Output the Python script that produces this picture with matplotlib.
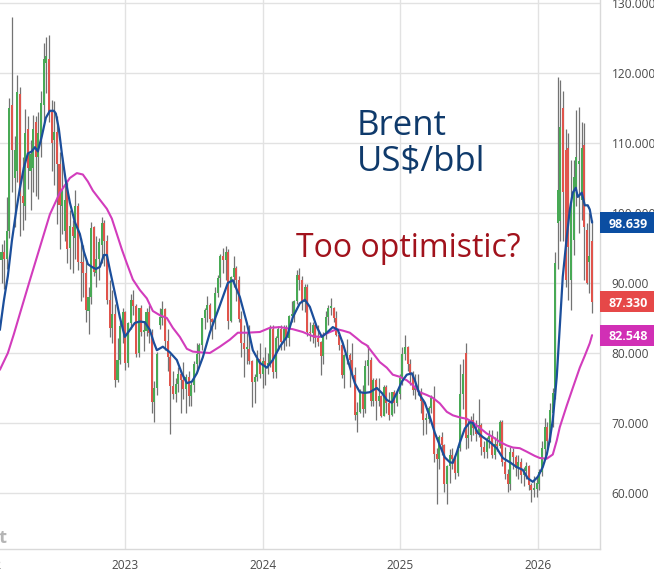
import numpy as np
import pandas as pd
import matplotlib
matplotlib.use('Agg')
import matplotlib.pyplot as plt
import matplotlib.dates as mdates
import matplotlib.transforms as mtransforms
from matplotlib.patches import Rectangle

plt.rcParams['font.family'] = ['Open Sans', 'DejaVu Sans']

# ---------------- data: weekly Brent candles (week starting Monday) ----------------
first_week = '2022-01-31'

open_2022 = [89.3, 93.3, 94.4, 93.5, 97.5, 115.5, 105.0, 106.0, 117.0, 102.5, 101.0, 112.0, 106.0, 106.5, 113.0, 108.0,
             110.5, 115.5, 121.5, 122.0, 114.4, 110.5, 111.6, 107.0, 101.0, 97.5, 103.7, 95.0, 98.0, 96.5, 101.0, 93.0,
             93.0, 91.4, 86.0, 88.0, 98.0, 91.5, 93.5, 95.5, 98.6, 96.0, 87.6, 83.6, 85.6, 76.1, 79.0, 84.0]
high_2022 = [94.0, 95.6, 96.2, 102.3, 116.5, 128.0, 111.0, 119.7, 118.0, 108.0, 114.9, 113.8, 110.5, 114.0, 113.8, 114.4,
             117.5, 124.3, 125.1, 125.4, 116.2, 116.0, 113.9, 108.7, 108.0, 104.0, 104.5, 100.5, 99.0, 103.3, 101.5, 96.5,
             95.5, 93.5, 89.5, 98.7, 98.1, 96.7, 96.5, 99.5, 99.0, 96.8, 90.5, 89.0, 87.0, 82.2, 84.5, 86.5]
low_2022 = [88.0, 90.0, 89.2, 92.0, 96.5, 103.0, 98.0, 104.5, 96.7, 97.6, 99.0, 103.5, 100.5, 103.0, 102.5, 102.0,
            108.0, 113.0, 117.1, 113.0, 106.0, 104.0, 98.5, 94.9, 97.0, 96.0, 92.8, 92.0, 91.5, 93.5, 91.9, 87.5,
            88.0, 84.5, 82.7, 87.0, 91.0, 89.5, 90.5, 92.8, 92.5, 87.0, 82.3, 81.5, 75.1, 75.8, 78.5, 81.5]
close_2022 = [93.3, 94.4, 93.5, 97.5, 115.0, 109.0, 109.0, 117.3, 102.5, 101.5, 111.5, 106.5, 108.5, 112.0, 108.0, 111.5,
              115.7, 122.0, 122.5, 114.4, 110.0, 111.6, 107.0, 101.2, 103.2, 101.9, 94.9, 98.2, 96.7, 101.0, 93.0, 92.8,
              91.4, 86.2, 88.0, 97.9, 91.6, 93.5, 95.8, 98.6, 96.0, 87.6, 83.6, 85.6, 76.1, 79.0, 83.9, 85.9]

open_2023 = [85.9, 78.6, 84.3, 87.6, 86.7, 80.0, 86.4, 83.0, 83.2, 85.8, 82.8, 73.0, 75.0, 84.0, 85.0, 86.3,
             81.7, 79.5, 75.3, 74.2, 75.6, 77.0, 76.1, 74.8, 76.6, 73.9, 75.4, 78.5, 79.9, 81.1, 85.0, 86.2,
             86.8, 84.8, 84.5, 88.6, 90.7, 93.9, 93.3, 94.5, 84.6, 90.9, 92.2, 90.5, 84.9, 81.4, 80.6, 80.6,
             78.9, 75.8, 76.6, 79.1]
high_2023 = [86.0, 84.5, 88.5, 89.0, 87.0, 86.5, 86.9, 84.5, 86.5, 86.8, 83.5, 76.0, 80.2, 86.5, 87.5, 86.5,
             83.5, 79.8, 77.5, 76.5, 78.0, 77.5, 78.7, 77.0, 77.5, 75.8, 78.8, 81.5, 81.5, 85.0, 86.5, 88.1,
             87.2, 85.0, 89.5, 91.2, 94.2, 95.0, 95.3, 94.8, 91.0, 93.8, 92.5, 91.0, 86.0, 84.0, 83.0, 84.0,
             79.0, 77.0, 80.5, 81.5]
low_2023 = [77.6, 78.0, 83.5, 85.5, 79.5, 79.5, 82.5, 80.3, 82.5, 81.5, 71.4, 70.1, 74.0, 83.5, 84.0, 80.5,
            77.5, 68.5, 73.5, 73.0, 74.5, 71.5, 73.5, 71.5, 72.5, 72.5, 74.5, 77.5, 78.5, 80.5, 83.5, 84.5,
            83.5, 82.0, 83.5, 88.0, 89.5, 91.5, 90.5, 83.5, 84.5, 89.5, 87.5, 84.5, 79.5, 76.6, 78.5, 78.5,
            72.3, 72.8, 76.0, 76.5]
close_2023 = [78.6, 84.3, 87.6, 86.7, 79.9, 86.4, 83.0, 83.2, 85.8, 82.8, 73.0, 75.0, 79.8, 85.1, 86.3, 81.7,
              79.5, 75.3, 74.2, 75.6, 77.0, 76.1, 74.8, 76.6, 73.9, 75.4, 78.5, 79.9, 81.1, 85.0, 86.2, 86.8,
              84.8, 84.5, 88.6, 90.7, 93.9, 93.3, 94.5, 84.6, 90.9, 92.2, 90.5, 84.9, 81.4, 80.6, 80.6, 78.9,
              75.8, 76.6, 79.1, 77.0]

open_2024 = [77.0, 78.8, 78.3, 78.6, 83.5, 77.3, 82.2, 83.5, 81.6, 83.5, 82.1, 85.3, 85.4, 87.5, 91.2, 90.5,
             87.3, 89.5, 83.0, 82.8, 84.0, 82.1, 81.6, 79.6, 82.6, 85.2, 86.4, 86.5, 85.0, 82.6, 81.1, 76.8,
             79.7, 79.7, 79.0, 76.9, 71.1, 71.6, 74.5, 72.0, 78.1, 79.0, 73.1, 76.1, 73.1, 73.9, 71.0, 75.2,
             72.9, 71.1, 74.5, 72.9, 74.2]
high_2024 = [79.5, 80.8, 80.0, 84.0, 84.0, 82.5, 83.8, 84.0, 84.0, 84.0, 85.5, 87.5, 87.6, 91.9, 92.1, 91.0,
             89.8, 89.8, 84.5, 84.5, 84.3, 84.0, 81.7, 83.0, 86.0, 86.8, 87.9, 86.6, 86.0, 83.0, 81.8, 79.8,
             82.0, 80.0, 81.5, 78.0, 73.0, 74.9, 75.5, 79.0, 81.2, 79.5, 76.5, 76.5, 76.5, 74.0, 75.5, 75.5,
             74.5, 74.5, 74.7, 74.6, 77.0]
low_2024 = [75.0, 75.5, 77.0, 78.0, 76.5, 76.5, 80.5, 80.5, 80.5, 81.0, 81.0, 84.5, 84.5, 87.0, 89.0, 86.1,
            85.9, 82.4, 81.7, 81.5, 80.8, 81.0, 76.8, 78.5, 82.0, 84.0, 85.5, 84.5, 82.5, 80.5, 76.5, 75.0,
            78.5, 75.1, 76.5, 70.5, 68.7, 71.5, 70.9, 71.5, 75.5, 72.5, 72.5, 70.5, 72.5, 70.8, 71.0, 71.5,
            70.5, 71.0, 71.5, 72.5, 73.5]
close_2024 = [78.8, 78.3, 78.6, 83.5, 77.3, 82.2, 83.5, 81.6, 83.5, 82.1, 85.3, 85.4, 87.5, 91.2, 90.5, 87.3,
              89.5, 83.0, 82.8, 84.0, 82.1, 81.6, 79.6, 82.6, 85.2, 86.4, 86.5, 85.0, 82.6, 81.1, 76.8, 79.7,
              79.7, 79.0, 76.9, 71.1, 71.6, 74.5, 72.0, 78.1, 79.0, 73.1, 76.1, 73.1, 73.9, 71.0, 75.2, 72.9,
              71.1, 74.5, 72.9, 74.2, 76.5]

open_2025 = [76.5, 79.8, 80.8, 78.5, 76.8, 74.7, 74.7, 74.4, 73.2, 70.4, 70.6, 72.2, 73.6, 65.6, 64.8, 68.0,
             66.9, 61.3, 63.9, 65.4, 64.8, 62.8, 66.5, 74.2, 80.0, 67.8, 68.3, 70.4, 69.3, 68.4, 69.7, 66.6,
             65.9, 67.7, 68.1, 65.5, 67.0, 66.7, 70.1, 64.5, 62.7, 61.3, 65.9, 65.1, 63.6, 64.4, 62.6, 63.2,
             63.8, 61.1, 60.5, 60.6]
high_2025 = [80.8, 82.6, 81.0, 79.2, 77.5, 77.0, 77.0, 75.0, 73.5, 71.5, 72.5, 74.0, 75.3, 66.5, 68.3, 68.7,
             67.0, 64.0, 66.3, 66.5, 65.5, 66.8, 78.5, 79.1, 81.4, 70.5, 71.0, 71.5, 70.5, 73.5, 70.0, 67.5,
             68.0, 69.0, 69.0, 68.0, 68.8, 70.4, 70.5, 66.6, 63.5, 66.6, 66.5, 65.5, 65.5, 65.0, 63.7, 64.5,
             64.0, 61.5, 62.5, 62.5]
low_2025 = [75.5, 79.0, 77.5, 75.5, 74.0, 73.5, 74.0, 71.5, 68.3, 68.5, 70.0, 71.5, 64.5, 58.4, 63.5, 65.5,
            60.2, 58.5, 61.5, 63.5, 62.0, 62.5, 66.0, 72.0, 66.3, 66.5, 67.5, 68.3, 67.5, 68.0, 65.5, 65.0,
            65.0, 66.5, 65.0, 64.8, 66.0, 66.5, 63.9, 62.0, 60.1, 60.5, 63.5, 62.5, 62.0, 61.5, 61.0, 62.0,
            60.5, 58.7, 59.5, 59.5]
close_2025 = [79.8, 80.8, 78.5, 76.8, 74.7, 74.7, 74.4, 73.2, 70.4, 70.6, 72.2, 73.6, 65.6, 64.8, 68.0, 66.9,
              61.3, 63.9, 65.4, 64.8, 62.8, 66.5, 74.2, 77.0, 67.8, 68.3, 70.4, 69.3, 68.4, 69.7, 66.6, 65.9,
              67.7, 68.1, 65.5, 67.0, 66.7, 70.1, 64.5, 62.7, 61.3, 65.9, 65.1, 63.6, 64.4, 62.6, 63.2, 63.8,
              61.1, 60.5, 60.6, 61.5]

open_2026 = [61.3, 63.0, 66.3, 69.4, 67.8, 71.5, 74.5, 98.6, 98.8, 115.0, 109.0, 109.3, 90.4, 96.1, 103.7, 107.0,
             101.9, 109.7, 97.6, 93.0, 96.0]
high_2026 = [63.5, 67.5, 70.7, 70.2, 72.9, 75.0, 94.4, 119.4, 119.0, 117.5, 112.0, 111.4, 107.6, 107.6, 114.7, 115.1,
             113.0, 112.9, 98.6, 100.0, 99.0]
low_2026 = [60.5, 62.5, 64.8, 66.5, 67.3, 69.5, 73.5, 92.0, 96.0, 96.0, 89.5, 87.6, 86.1, 94.0, 101.0, 97.1,
            99.0, 90.4, 89.8, 88.6, 85.7]
close_2026 = [63.0, 66.5, 69.5, 67.4, 71.9, 74.3, 92.8, 103.3, 112.3, 103.0, 90.5, 95.1, 101.4, 105.1, 108.0, 107.5,
              109.3, 98.0, 90.0, 93.9, 87.33]

# moving averages: (weeks since first candle, value)
ma_fast_weeks = [0.38, 1.9, 3.41, 4.93, 6.45, 7.96, 9.48, 11.0, 12.51, 13.65, 14.79, 16.31, 17.82, 19.34, 20.86, 21.62,
                 22.75, 23.89, 25.41, 26.92, 28.82, 30.72, 32.23, 33.75, 35.27, 36.78, 38.3, 39.82, 40.96, 42.09, 43.99,
                 45.89, 47.78, 49.68, 51.57, 53.47, 55.37, 57.26, 58.78, 59.92, 62.19, 64.85, 67.5, 69.4, 71.29, 73.19,
                 75.09, 77.36, 80.02, 83.81, 86.84, 88.74, 91.4, 94.05, 96.32, 98.97, 101.63, 103.9, 106.56, 109.22,
                 111.49, 114.15, 116.05, 117.94, 120.6, 122.49, 124.39, 126.66, 128.56, 130.45, 133.11, 135.0, 136.9,
                 138.8, 140.69, 143.35, 145.24, 147.14, 149.03, 150.93, 152.83, 154.72, 156.62, 157.76, 159.65, 161.55,
                 163.44, 165.34, 167.24, 169.13, 171.03, 172.17, 173.68, 174.82, 176.72, 178.61, 179.75, 181.65, 183.54,
                 186.2, 188.85, 191.13, 193.78, 196.44, 198.71, 200.61, 202.5, 204.4, 206.29, 207.81, 208.95, 210.09,
                 211.6, 212.74, 213.88, 215.4, 216.53, 217.67, 218.81, 219.57, 221.08, 222.22, 223.36, 224.12, 225.0]
ma_fast_values = [83.3, 87.5, 91.0, 96.0, 100.0, 103.5, 106.5, 108.5, 108.8, 109.4, 108.8, 111.0, 113.6, 114.6, 114.6, 114.2,
                  112.0, 108.5, 104.5, 101.5, 98.7, 97.0, 94.5, 92.7, 92.3, 92.0, 92.3, 94.0, 94.0, 91.9, 88.6,
                  85.1, 82.3, 83.3, 84.3, 84.5, 84.4, 83.3, 81.5, 80.4, 80.9, 80.1, 79.0, 77.1, 75.7, 75.9,
                  77.1, 79.4, 82.9, 86.8, 90.0, 90.4, 88.0, 84.3, 80.4, 78.6, 77.9, 79.0, 80.9, 82.3,
                  85.1, 87.1, 87.6, 86.6, 83.7, 82.3, 82.9, 83.7, 83.3, 81.4, 78.0, 75.7, 74.4,
                  74.3, 74.4, 75.0, 74.3, 73.3, 72.9, 74.3, 75.9, 76.9, 77.1, 76.1, 74.0, 72.9,
                  70.9, 68.6, 66.8, 65.1, 64.4, 64.3, 65.8, 67.2, 69.2, 70.1, 70.0, 68.6, 68.0,
                  67.3, 66.4, 65.0, 64.4, 63.7, 63.3, 62.1, 61.6, 62.3, 63.7, 65.5, 67.6, 70.4,
                  76.6, 83.7, 90.9, 96.6, 100.4, 102.9, 103.6, 102.3, 102.9, 101.1, 101.1, 100.5, 98.639]

ma_slow_weeks = [0.38, 3.41, 5.69, 7.96, 11.76, 15.55, 19.34, 23.13, 26.92, 29.58, 31.85, 33.75, 35.65, 38.3, 40.96,
                 42.85, 44.75, 46.64, 48.54, 50.82, 53.47, 56.12, 58.4, 61.05, 63.71, 65.98, 68.64, 71.29, 73.57,
                 76.22, 80.02, 83.81, 87.6, 90.63, 94.05, 98.97, 102.77, 106.56, 111.49, 115.29, 119.07, 121.73,
                 125.52, 128.18, 130.45, 133.11, 135.76, 137.66, 139.55, 141.83, 144.48, 147.14, 149.41, 152.06,
                 154.72, 157.0, 159.65, 162.31, 164.59, 167.24, 169.89, 172.17, 174.82, 177.47, 179.75, 182.4,
                 185.06, 187.33, 189.99, 192.64, 194.92, 197.57, 200.23, 203.26, 205.16, 207.81, 210.09, 211.6,
                 212.74, 215.4, 217.67, 220.33, 222.22, 224.12, 225.0]
ma_slow_values = [77.6, 80.0, 82.7, 85.6, 90.4, 95.1, 99.8, 102.9, 105.0, 105.7, 105.5, 104.5, 103.2, 101.9, 100.6,
                  99.2, 97.0, 94.8, 92.8, 90.5, 89.0, 87.8, 86.0, 85.4, 85.0, 83.6, 82.3, 80.6, 80.2,
                  80.1, 80.0, 80.9, 81.9, 82.9, 82.9, 83.0, 83.6, 83.7, 83.4, 83.0, 82.4, 82.3,
                  83.0, 83.4, 83.2, 82.9, 82.1, 81.5, 81.1, 80.0, 78.7, 77.9, 76.9, 76.6,
                  76.1, 75.4, 74.4, 74.0, 73.6, 72.8, 71.6, 71.1, 70.8, 70.6, 70.1, 69.3,
                  68.5, 68.0, 67.3, 66.8, 66.5, 66.4, 65.9, 65.3, 65.0, 64.9, 65.5, 67.5,
                  69.4, 72.5, 75.0, 77.9, 79.6, 81.4, 82.548]

y_ticks = [60, 70, 80, 90, 100, 110, 120, 130]
year_ticks = ['2022', '2023', '2024', '2025', '2026']

title_lines = ['Brent', 'US$/bbl']
question = 'Too optimistic?'

# ---------------- build ----------------
opens = np.array(open_2022 + open_2023 + open_2024 + open_2025 + open_2026)
highs = np.array(high_2022 + high_2023 + high_2024 + high_2025 + high_2026)
lows = np.array(low_2022 + low_2023 + low_2024 + low_2025 + low_2026)
closes = np.array(close_2022 + close_2023 + close_2024 + close_2025 + close_2026)

start = pd.Timestamp(first_week)
dates = start + pd.to_timedelta(np.arange(len(closes)) * 7, unit='D')
xd = mdates.date2num(dates)
fast_x = mdates.date2num(start + pd.to_timedelta(np.array(ma_fast_weeks) * 7, unit='D'))
slow_x = mdates.date2num(start + pd.to_timedelta(np.array(ma_slow_weeks) * 7, unit='D'))

W, H = 654, 575
fig = plt.figure(figsize=(W / 100, H / 100), dpi=100)
ax = fig.add_axes([0, 26 / H, 600 / W, 549 / H])

ax.set_xlim(mdates.date2num(pd.Timestamp('2022-02-03')), mdates.date2num(pd.Timestamp('2026-06-15')))
ax.set_ylim(52.0, 130.43)

green = '#48a955'
red = '#e0544c'
up = closes >= opens
body_colors = np.where(up, green, red)

ax.vlines(xd, lows, highs, color='#737373', lw=0.9, zorder=2)
ax.bar(xd, np.maximum(np.abs(closes - opens), 0.25), bottom=np.minimum(opens, closes),
       width=5.4, color=body_colors, linewidth=0, zorder=3)

ax.plot(slow_x, ma_slow_values, color='#d23cbc', lw=1.5, zorder=4, solid_capstyle='round')
ax.plot(fast_x, ma_fast_values, color='#1b4e9b', lw=1.6, zorder=5, solid_capstyle='round')

# grid / spines
ax.set_axisbelow(True)
ax.grid(True, color='#e2e2e2', lw=1.0)
for s in ['top', 'left']:
    ax.spines[s].set_visible(False)
for s in ['right', 'bottom']:
    ax.spines[s].set_color('#d9d9d9')
    ax.spines[s].set_linewidth(1.0)

ax.yaxis.tick_right()
ax.set_yticks(y_ticks)
ax.set_yticklabels([f'{v:.3f}' for v in y_ticks])
ax.tick_params(axis='y', length=0, pad=8.5, labelsize=8.6, labelcolor='#4a4a4a')

year_dates = mdates.date2num(pd.to_datetime([f'{y}-01-01' for y in year_ticks]))
ax.set_xticks(year_dates[1:])
ax.set_xticklabels(year_ticks[1:])
ax.tick_params(axis='x', length=0, pad=7, labelsize=8.6, labelcolor='#4a4a4a')
bt = mtransforms.blended_transform_factory(ax.transData, ax.transAxes)
ax.text(year_dates[0], -10 / 549, year_ticks[0], transform=bt, ha='center', va='top',
        fontsize=8.6, color='#4a4a4a', clip_on=False)

# value boxes on the right
rt = mtransforms.blended_transform_factory(ax.transAxes, ax.transData)
labels = [(ma_fast_values[-1], '#0b4ea2'), (closes[-1], '#e64848'), (ma_slow_values[-1], '#d12fb5')]
for val, col in labels:
    ax.add_patch(Rectangle((1.0, val - 1.5), 56 / 600, 3.0, transform=rt, facecolor=col,
                           edgecolor='none', clip_on=False, zorder=6))
    ax.text(1.0 + 28 / 600, val, f'{val:.3f}', transform=rt, ha='center', va='center_baseline',
            color='white', fontsize=9, fontweight='bold', clip_on=False, zorder=7)

# annotations
ax.text(0.595, 0.754, title_lines[0], transform=ax.transAxes, fontsize=25, color='#0f3a6b',
        va='baseline', ha='left', parse_math=False)
ax.text(0.595, 0.690, title_lines[1], transform=ax.transAxes, fontsize=25, color='#0f3a6b',
        va='baseline', ha='left', parse_math=False)
ax.text(0.493, 0.532, question, transform=ax.transAxes, fontsize=23, color='#a1121c',
        va='baseline', ha='left')

# faint watermark remnant
ax.text(8 / 600, (549 - 543) / 549, 'rt', transform=ax.transAxes, fontsize=13, color='#b5b5b5',
        fontweight='bold', ha='right', va='baseline', clip_on=False)

fig.savefig('out.png', dpi=100)
